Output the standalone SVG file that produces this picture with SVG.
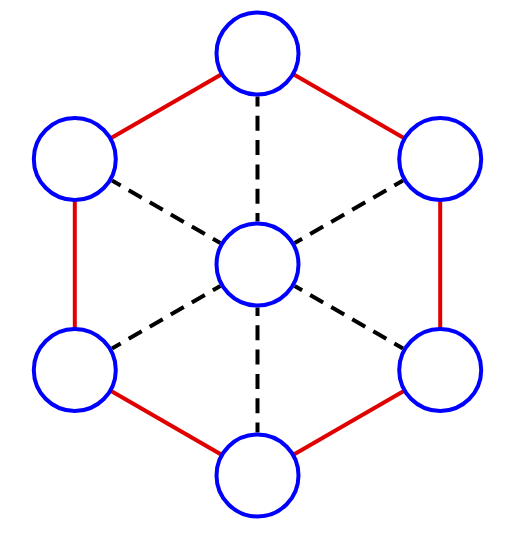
<svg xmlns="http://www.w3.org/2000/svg" width="528" height="539" viewBox="0 0 528 539">
<style>
.node{fill:#ffffff;stroke:#0000ff;stroke-width:4}
.red{stroke:#e00000;stroke-width:4;fill:none}
.dash{stroke:#000000;stroke-width:4;fill:none;stroke-dasharray:15 9.3;stroke-dashoffset:5}
</style>
<rect width="528" height="539" fill="#ffffff"/>
<g id="connectors">
<line class="red" x1="257.5" y1="53.5" x2="74.8" y2="159"/>
<line class="red" x1="257.5" y1="53.5" x2="440.2" y2="159"/>
<line class="red" x1="74.8" y1="159" x2="74.8" y2="370"/>
<line class="red" x1="440.2" y1="159" x2="440.2" y2="370"/>
<line class="red" x1="74.8" y1="370" x2="257.5" y2="475.5"/>
<line class="red" x1="440.2" y1="370" x2="257.5" y2="475.5"/>
<line class="dash" x1="257.5" y1="96.5" x2="257.5" y2="221.5"/>
<line class="dash" x1="112" y1="180.5" x2="220.3" y2="243"/>
<line class="dash" x1="403" y1="180.5" x2="294.7" y2="243"/>
<line class="dash" x1="112" y1="348.5" x2="220.3" y2="286"/>
<line class="dash" x1="403" y1="348.5" x2="294.7" y2="286"/>
<line class="dash" x1="257.5" y1="432.5" x2="257.5" y2="307.5"/>
</g>
<g id="node-top"><circle class="node" cx="257.5" cy="53.5" r="41"/></g>
<g id="node-upper-left"><circle class="node" cx="74.8" cy="159" r="41"/></g>
<g id="node-upper-right"><circle class="node" cx="440.2" cy="159" r="41"/></g>
<g id="node-lower-left"><circle class="node" cx="74.8" cy="370" r="41"/></g>
<g id="node-lower-right"><circle class="node" cx="440.2" cy="370" r="41"/></g>
<g id="node-bottom"><circle class="node" cx="257.5" cy="475.5" r="41"/></g>
<g id="node-center"><circle class="node" cx="257.5" cy="264.5" r="41"/></g>
</svg>
